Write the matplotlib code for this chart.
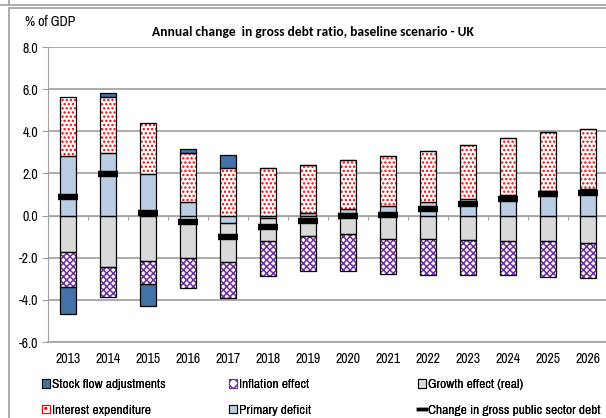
import matplotlib
matplotlib.use("Agg")
import matplotlib.pyplot as plt
from matplotlib.patches import Rectangle, Patch
from matplotlib.lines import Line2D
import numpy as np

years = ["2013", "2014", "2015", "2016", "2017", "2018", "2019",
         "2020", "2021", "2022", "2023", "2024", "2025", "2026"]
primary = [2.81, 2.99, 1.96, 0.64, -0.35, -0.13, 0.12, 0.32, 0.47, 0.64, 0.81, 1.00, 1.15, 1.27]
interest = [2.83, 2.65, 2.42, 2.33, 2.25, 2.26, 2.28, 2.30, 2.37, 2.43, 2.56, 2.68, 2.82, 2.83]
growth = [-1.75, -2.42, -2.17, -2.00, -1.87, -1.07, -0.97, -0.89, -1.09, -1.09, -1.16, -1.22, -1.21, -1.28]
inflation = [-1.64, -1.44, -1.08, -1.45, -1.70, -1.65, -1.64, -1.72, -1.70, -1.71, -1.65, -1.62, -1.69, -1.69]
sfa = [-1.30, 0.19, -1.02, 0.21, 0.63, 0, 0, 0, 0, 0, 0, 0, 0, 0]
change = [0.88, 1.99, 0.10, -0.30, -1.02, -0.54, -0.26, -0.03, 0.05, 0.30, 0.54, 0.78, 1.03, 1.09]

plt.rcParams['font.family'] = ['Archivo Narrow', 'DejaVu Sans']
plt.rcParams['hatch.linewidth'] = 1.1

fig = plt.figure(figsize=(6.06, 4.18), dpi=100)
ax = fig.add_axes([48/606, 1-342/418, 560/606, 295/418])

x = np.arange(len(years))
w = 0.42
pos_bot = np.zeros(len(years))
neg_bot = np.zeros(len(years))

# stacking order like excel: closest to zero first
series = [
    (primary, dict(color='#b9cde5')),
    (growth, dict(color='#d9d9d9')),
    (interest, dict(color='white', edgecolor='#ff0000', hatch='....')),
    (inflation, dict(color='white', edgecolor='#7030a0', hatch='xxxxx')),
    (sfa, dict(color='#4372a8')),
]
for vals, style in series:
    v = np.array(vals, dtype=float)
    bot = np.where(v >= 0, pos_bot, neg_bot)
    ax.bar(x, v, w, bottom=bot, linewidth=0, zorder=2, **style)
    ax.bar(x, v, w, bottom=bot, fill=False, edgecolor='black', linewidth=0.9, zorder=3)
    pos_bot = pos_bot + np.where(v > 0, v, 0)
    neg_bot = neg_bot + np.where(v < 0, v, 0)

ax.plot(x, change, linestyle='none', marker='_', markersize=15, mew=4.6, color='black', zorder=4)

ax.set_xlim(-0.5, 13.5)
ax.set_ylim(-6, 8)
ax.set_yticks(np.arange(-6, 9, 2))
ax.set_yticklabels(["%.1f" % t for t in np.arange(-6, 9, 2)], fontsize=10)
ax.set_xticks(x)
ax.set_xticklabels(years, fontsize=10)
ax.tick_params(axis='x', length=0, pad=7)
ax.tick_params(axis='y', length=4, color='#a0a0a0', pad=3)
ax.yaxis.grid(True, color='#a6a6a6', linewidth=1.3, zorder=0)
ax.set_axisbelow(True)
for s in ['top', 'right']:
    ax.spines[s].set_visible(False)
ax.spines['left'].set_color('#a0a0a0')
ax.spines['bottom'].set_color('#a6a6a6')
ax.spines['bottom'].set_linewidth(1.3)

# category axis crossing at zero
sec = ax.secondary_xaxis(6/14)
sec.set_xticks(np.arange(-0.5, 14, 1))
sec.set_xticklabels([])
sec.tick_params(length=3, color='#a0a0a0', direction='out')
sec.spines['bottom'].set_color('#a0a0a0')

fig.text(313/606, 1-32/418, "Annual change  in gross debt ratio, baseline scenario - UK",
         ha='center', va='center', fontsize=9.7, fontweight='bold', family='Carlito')
fig.text(25/606, 1-22/418, "% of GDP", ha='left', va='center', fontsize=10)

# chart frame
fig.add_artist(Rectangle((9/606, -0.1), 1.2, 1-8/418+0.1, transform=fig.transFigure,
                         fill=False, edgecolor='#a6a6a6', linewidth=1.3))
fig.add_artist(Line2D([0, 1], [1-5/418, 1-5/418], transform=fig.transFigure, color='#a6a6a6', lw=1.3))
fig.add_artist(Line2D([9/606, 9/606], [1-5/418, 1], transform=fig.transFigure, color='#a6a6a6', lw=1.3))

h_sfa = Patch(facecolor='#4372a8', edgecolor='black', linewidth=0.8)
h_int = Patch(facecolor='white', edgecolor='#ff0000', hatch='..', linewidth=0.8)
h_inf = Patch(facecolor='white', edgecolor='#7030a0', hatch='xxx', linewidth=0.8)
h_pri = Patch(facecolor='#b9cde5', edgecolor='black', linewidth=0.8)
h_gro = Patch(facecolor='#d9d9d9', edgecolor='black', linewidth=0.8)
h_chg = Line2D([], [], color='black', lw=2.5)

cols = [
    ([h_sfa, h_int], ["Stock flow adjustments", "Interest expenditure"], 42),
    ([h_inf, h_pri], ["Inflation effect", "Primary deficit"], 229),
    ([h_gro, h_chg], ["Growth effect (real)", "Change in gross public sector debt"], 418),
]
for hs, ls, px in cols:
    leg = fig.legend(hs, ls, loc='upper left', bbox_to_anchor=(px/606, 1-379/418),
                     frameon=False, fontsize=9.7, handlelength=0.6, handleheight=0.6,
                     handletextpad=0.15, labelspacing=1.1, borderpad=0, borderaxespad=0)
    fig.add_artist(leg)

fig.savefig("out.png", dpi=100)
